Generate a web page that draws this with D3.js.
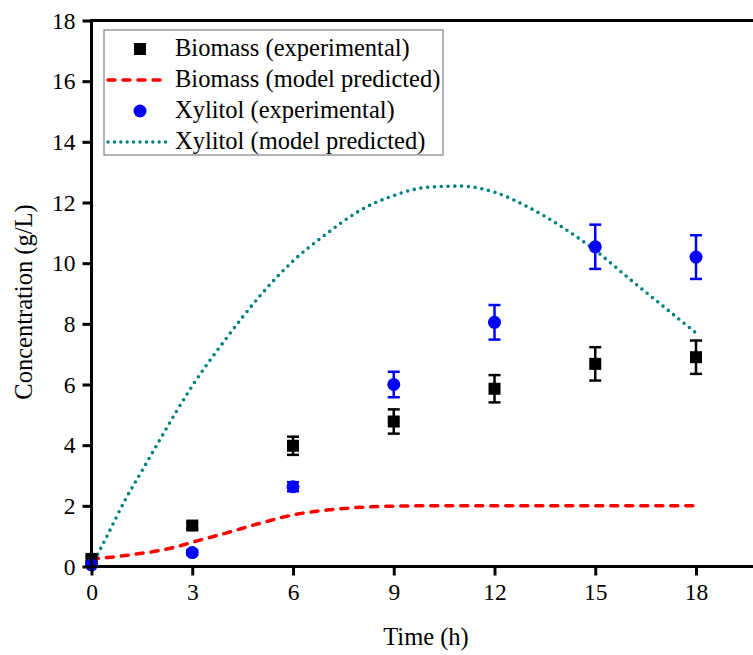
<!DOCTYPE html>
<html>
<head>
<meta charset="utf-8">
<script src="https://cdn.jsdelivr.net/npm/d3@7"></script>
<style>
  html, body { margin: 0; padding: 0; background: #ffffff; }
  svg { display: block; }
  svg text { font-family: "Liberation Serif", "Times New Roman", serif; fill: #000; }
</style>
</head>
<body>
<svg id="chart" width="753" height="655"></svg>
<script>
// Sampling times (h) of the experimental runs
const times = [0, 3, 6, 9, 12, 15, 18];

// Biomass, experimental (g/L) with standard deviation
const biomassExp = [0.25, 1.35, 3.98, 4.78, 5.86, 6.68, 6.9];
const biomassErr = [0.08, 0.1, 0.3, 0.4, 0.45, 0.55, 0.55];

// Xylitol, experimental (g/L) with standard deviation
const xylitolExp = [0.05, 0.46, 2.63, 6.0, 8.05, 10.54, 10.2];
const xylitolErr = [0.05, 0.08, 0.15, 0.42, 0.57, 0.73, 0.72];

// Model predictions
const modelTimes   = [0, 0.5, 1, 1.5, 2, 2.5, 3, 4, 5, 6, 7, 8, 9, 10, 11, 12, 13, 14, 15, 16, 17, 18];
const biomassModel = [0.25, 0.3, 0.36, 0.44, 0.52, 0.64, 0.8, 1.1, 1.42, 1.7, 1.86, 1.95, 1.99, 2.0, 2.0, 2.0, 2.0, 2.0, 2.0, 2.0, 2.0, 2.0];
const xylitolModel = [0, 1.09, 2.19, 3.15, 4.11, 5.06, 5.95, 7.5, 8.9, 10.07, 10.97, 11.74, 12.23, 12.5, 12.54, 12.34, 11.85, 11.2, 10.42, 9.5, 8.6, 7.7];

// Axis ticks
const xTicks = [0, 3, 6, 9, 12, 15, 18];
const yTicks = [0, 2, 4, 6, 8, 10, 12, 14, 16, 18];

const legendLabels = [
  "Biomass (experimental)",
  "Biomass (model predicted)",
  "Xylitol (experimental)",
  "Xylitol (model predicted)"
];

const FONT = '"Liberation Serif", "Times New Roman", serif';
const FS_TICK = "23.5px";
const FS_TEXT = "24.5px";

const svg = d3.select("#chart");

const x = d3.scaleLinear().domain([0, 18]).range([91.5, 696]);
const y = d3.scaleLinear().domain([0, 18]).range([566.5, 20.5]);
const xRight = 800; // frame continues past the visible edge

const red = "#ff0000", teal = "#008080", blue = "#0000ff";

// model curves
const line = d3.line().curve(d3.curveMonotoneX);

svg.append("path")
  .attr("d", line(modelTimes.map((t, i) => [x(t), y(biomassModel[i])])))
  .attr("fill", "none").attr("stroke", red).attr("stroke-width", 3.5)
  .attr("stroke-linecap", "round").attr("stroke-dasharray", "7,8");

svg.append("path")
  .attr("d", line(modelTimes.map((t, i) => [x(t), y(xylitolModel[i])])))
  .attr("fill", "none").attr("stroke", teal).attr("stroke-width", 3.6)
  .attr("stroke-linecap", "round").attr("stroke-dasharray", "0,6.8");

// error bars
function errorBars(vals, errs, color) {
  const g = svg.append("g").attr("stroke", color).attr("stroke-width", 2.5).attr("fill", "none");
  times.forEach((t, i) => {
    const cx = x(t), top = y(vals[i] + errs[i]), bot = y(vals[i] - errs[i]);
    g.append("line").attr("x1", cx).attr("x2", cx).attr("y1", top).attr("y2", bot);
    g.append("line").attr("x1", cx - 6).attr("x2", cx + 6).attr("y1", top).attr("y2", top);
    g.append("line").attr("x1", cx - 6).attr("x2", cx + 6).attr("y1", bot).attr("y2", bot);
  });
}
errorBars(biomassExp, biomassErr, "#000");
errorBars(xylitolExp, xylitolErr, blue);

// experimental markers
svg.append("g").selectAll("rect").data(times).join("rect")
  .attr("x", (t) => x(t) - 6).attr("y", (t, i) => y(biomassExp[i]) - 6)
  .attr("width", 12).attr("height", 12).attr("fill", "#000");

svg.append("g").selectAll("circle").data(times).join("circle")
  .attr("cx", (t) => x(t)).attr("cy", (t, i) => y(xylitolExp[i]))
  .attr("r", 6.5).attr("fill", blue);

// axes
const axisW = 3;
const xAxis = svg.append("g").attr("transform", `translate(0,${y(0)})`)
  .call(d3.axisBottom(x).tickValues(xTicks).tickSize(9).tickPadding(8).tickFormat(d3.format("d")));
const yAxis = svg.append("g").attr("transform", `translate(${x(0)},0)`)
  .call(d3.axisLeft(y).tickValues(yTicks).tickSize(9).tickPadding(7).tickFormat(d3.format("d")));
[xAxis, yAxis].forEach(a => {
  a.attr("font-family", null).attr("font-size", null);
  a.select(".domain").remove();
  a.selectAll(".tick line").attr("stroke", "#000").attr("stroke-width", axisW);
  a.selectAll(".tick text").style("font-size", FS_TICK).style("font-family", FONT).attr("fill", "#000");
});

// frame lines (left, bottom, top)
const frame = svg.append("g").attr("stroke", "#000").attr("stroke-width", axisW);
frame.append("line").attr("x1", x(0)).attr("x2", xRight).attr("y1", y(0)).attr("y2", y(0));
frame.append("line").attr("x1", x(0)).attr("x2", xRight).attr("y1", y(18)).attr("y2", y(18));
frame.append("line").attr("x1", x(0)).attr("x2", x(0)).attr("y1", y(18) - axisW / 2).attr("y2", y(0) + axisW / 2);

// axis titles
svg.append("text").attr("x", 426).attr("y", 645).attr("text-anchor", "middle")
  .style("font-size", FS_TEXT).style("font-family", FONT).text("Time (h)");
svg.append("text").attr("transform", "translate(32,302) rotate(-90)").attr("text-anchor", "middle")
  .style("font-size", FS_TEXT).style("font-family", FONT).text("Concentration (g/L)");

// legend
const lg = svg.append("g");
lg.append("rect").attr("x", 104).attr("y", 30).attr("width", 339).attr("height", 125)
  .attr("fill", "#fff").attr("stroke", "#808080").attr("stroke-width", 1.2);
const rowY = [49, 80, 111, 142];
lg.append("rect").attr("x", 134).attr("y", rowY[0] - 6).attr("width", 12).attr("height", 12).attr("fill", "#000");
lg.append("line").attr("x1", 108).attr("x2", 162).attr("y1", rowY[1]).attr("y2", rowY[1])
  .attr("stroke", red).attr("stroke-width", 3.5).attr("stroke-linecap", "round").attr("stroke-dasharray", "7,8");
lg.append("circle").attr("cx", 140).attr("cy", rowY[2]).attr("r", 6.5).attr("fill", blue);
lg.append("line").attr("x1", 108).attr("x2", 172).attr("y1", rowY[3]).attr("y2", rowY[3])
  .attr("stroke", teal).attr("stroke-width", 3.4).attr("stroke-linecap", "round").attr("stroke-dasharray", "0,6.4");
lg.selectAll("text.lbl").data(legendLabels).join("text").attr("class", "lbl")
  .attr("x", 175).attr("y", (d, i) => rowY[i] + 7)
  .style("font-size", FS_TEXT).style("font-family", FONT).text((d) => d);
</script>
</body>
</html>
